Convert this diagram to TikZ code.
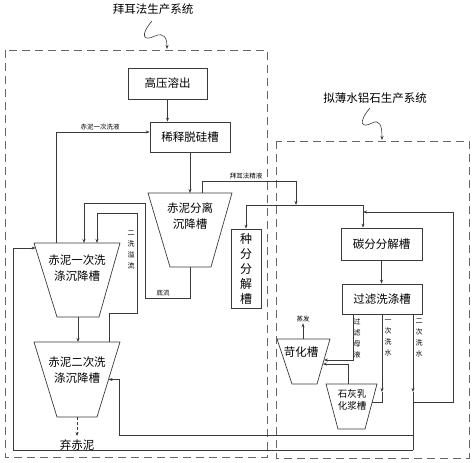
\documentclass[tikz,border=0pt]{standalone}
\usepackage{fontspec}
\setmainfont{Noto Sans CJK SC}
\usetikzlibrary{arrows.meta,calc}
\definecolor{wire}{HTML}{3A3A3A}
\tikzset{
  box/.style={draw=wire, line width=0.7pt, inner sep=0pt, font=\fontsize{11.5}{13}\selectfont},
  tank/.style={draw=wire, line width=0.7pt, line join=miter},
  tanktext/.style={align=center, inner sep=0pt, font=\fontsize{11.5}{16}\selectfont},
  tag/.style={font=\fontsize{6.5}{8}\selectfont, inner sep=1pt},
  vtag/.style={font=\fontsize{7}{11}\selectfont, align=center, inner sep=0pt},
  arr/.style={draw=wire, line width=0.6pt, -{Stealth[length=4pt,width=3pt]}},
  ln/.style={draw=wire, line width=0.6pt},
  frame/.style={draw=gray!80!black, line width=0.8pt, dash pattern=on 8pt off 5pt},
}
\begin{document}
\begin{tikzpicture}[x=1pt, y=-1pt]
        \useasboundingbox (0,0) rectangle (474,463);

        \node[font=\fontsize{11.5}{13}\selectfont] (T1) at (153,9) {拜耳法生产系统};
        \node[font=\fontsize{11.5}{13}\selectfont] (T2) at (375,98) {拟薄水铝石生产系统};
        \coordinate (s1) at (167,49);
        \coordinate (s2) at (382,140);
        \draw[arr] (152,21) .. controls (140,35) and (143,42) .. (155,36) .. controls (164,32) and (167,38) .. (s1);
        \draw[arr] (370,108) .. controls (358,122) and (361,129) .. (372,123) .. controls (380,119) and (382,126) .. (s2);
        \draw[frame] (5,50) rectangle (267,457);
        \draw[frame] (276,141) rectangle (469,458);

        \node[box, minimum width=79pt, minimum height=31pt] (GY) at (167.5,83.5) {高压溶出};
        \node[box, minimum width=80pt, minimum height=30pt] (XS) at (190,137) {稀释脱硅槽};
        \node[box, minimum width=30pt, minimum height=79pt, align=center, font=\fontsize{12}{15}\selectfont] (ZF) at (246,268.5) {种\\分\\分\\解\\槽};
        \node[box, minimum width=81pt, minimum height=32pt] (TF) at (381.5,244) {碳分分解槽};
        \node[box, minimum width=80pt, minimum height=30pt] (GL) at (382,299) {过滤洗涤槽};

        % 沉降槽
        \draw[tank] (148,193) -- (232,193) -- (211,267) -- (170,267) -- cycle;
        \coordinate (FLn) at (190,193);
        \coordinate (FLs) at (190,267);
        \node[tanktext] (FL) at (190,216) {赤泥分离\\沉降槽};
        \draw[tank] (34,243) -- (120,243) -- (99,317) -- (57,317) -- cycle;
        \coordinate (W1n) at (77,243);
        \coordinate (W1s) at (78,317);
        \coordinate (W1w) at (35.6,248);
        \node[tanktext] (W1) at (77,268) {赤泥一次洗\\涤沉降槽};
        \draw[tank] (34,342) -- (120,342) -- (97,417) -- (57,417) -- cycle;
        \coordinate (W2n) at (78,342);
        \coordinate (W2s) at (77,417);
        \coordinate (W2e) at (108.5,379.5);
        \node[tanktext] (W2) at (77,370) {赤泥二次洗\\涤沉降槽};
        \node[font=\fontsize{11.5}{13}\selectfont] (QC) at (77,445) {弃赤泥};

        \draw[tank] (277,339) -- (330,339) -- (317,384) -- (292,384) -- cycle;
        \coordinate (KHn) at (303,339);
        \node[tanktext] (KH) at (301,352) {苛化槽};
        \draw[tank] (326,384) -- (377,384) -- (365,429) -- (338,429) -- cycle;
        \coordinate (SHn) at (348,384);
        \node[tanktext, font=\fontsize{9.5}{12}\selectfont] (SH) at (352,400) {石灰乳\\化浆槽};

        % 拜耳法
        \draw[arr] (GY.south) -- (GY.south |- XS.north);
        \coordinate (a1) at (56,132);
        \draw[arr] (a1 |- W1n) -- (a1) -- (a1 -| XS.west);
        \node[tag] (L1) at (100,127) {赤泥一次洗液};
        \draw[arr] (XS.south) -- (XS.south |- FLn);
        \coordinate (b1) at (202,181);
        \coordinate (b2) at (296,205);
        \coordinate (b3) at (246,205);
        \coordinate (b4) at (363,205);
        \draw[arr] (b1 |- FLn) -- (b1) -| (b2);
        \draw[ln] (b3) -- (b4);
        \draw[arr] (b3) -- (b3 |- ZF.north);
        \draw[arr] (b4) -- (b4 |- TF.north);
        \node[tag] (L2) at (246,176) {拜耳法精液};
        \coordinate (d1) at (145,298);
        \coordinate (d2) at (84,203);
        \draw[arr] (FLs) |- (d1) |- (d2) -- (d2 |- W1n);
        \node[tag] (L3) at (163,293) {底流};
        \coordinate (e1) at (109,313);
        \coordinate (e2) at (137,213);
        \coordinate (e3) at (97,213);
        \draw[arr] (e1 |- W2n) -- (e1) -| (e2) -- (e3) -- (e3 |- W1n);
        \node[vtag] (L4) at (131,250) {二\\洗\\溢\\流};
        \draw[arr] (W1s) -- (W1s |- W2n);
        \draw[arr, dash pattern=on 3pt off 2pt] (W2s) -- (QC.north);

        % 拟薄水铝石
        \draw[arr] (TF.south) -- (TF.south |- GL.north);
        \coordinate (c1) at (413,402);
        \coordinate (c2) at (453,212);
        \coordinate (c3) at (363,212);
        \draw[arr] (c1) -| (c2) -- (c3);
        \coordinate (f1) at (353,360);
        \coordinate (f2) at (323.9,360);
        \draw[arr] (f1 |- GL.south) -- (f1) -- (f2);
        \coordinate (g1) at (348,364);
        \coordinate (g2) at (322.8,364);
        \draw[arr] (SHn) -- (g1) -- (g2);
        \coordinate (h1) at (382,392);
        \coordinate (h2) at (382,402);
        \coordinate (h3) at (372.2,402);
        \draw[arr] (h1 |- GL.south) -- (h1);
        \draw[ln] (h1) -- (h2) -- (h3);
        \coordinate (k1) at (413,392);
        \coordinate (k2) at (413,450);
        \draw[arr] (k1 |- GL.south) -- (k1);
        \draw[ln] (k1) -- (k2);
        \coordinate (m1) at (119,435);
        \draw[arr] (k1 |- m1) -- (m1) |- (W2e);
        \coordinate (n1) at (13,450);
        \draw[arr] (k2) -- (n1) |- (W1w);
        \node[tag] (ZQ) at (303,319) {蒸发};
        \draw[arr] (KHn) -- (ZQ.south);
        \node[vtag] (L5) at (357,338) {过\\滤\\母\\液};
        \node[vtag] (L6) at (388,338) {一\\次\\洗\\水};
        \node[vtag] (L7) at (419,338) {二\\次\\洗\\水};
\end{tikzpicture}
\end{document}
